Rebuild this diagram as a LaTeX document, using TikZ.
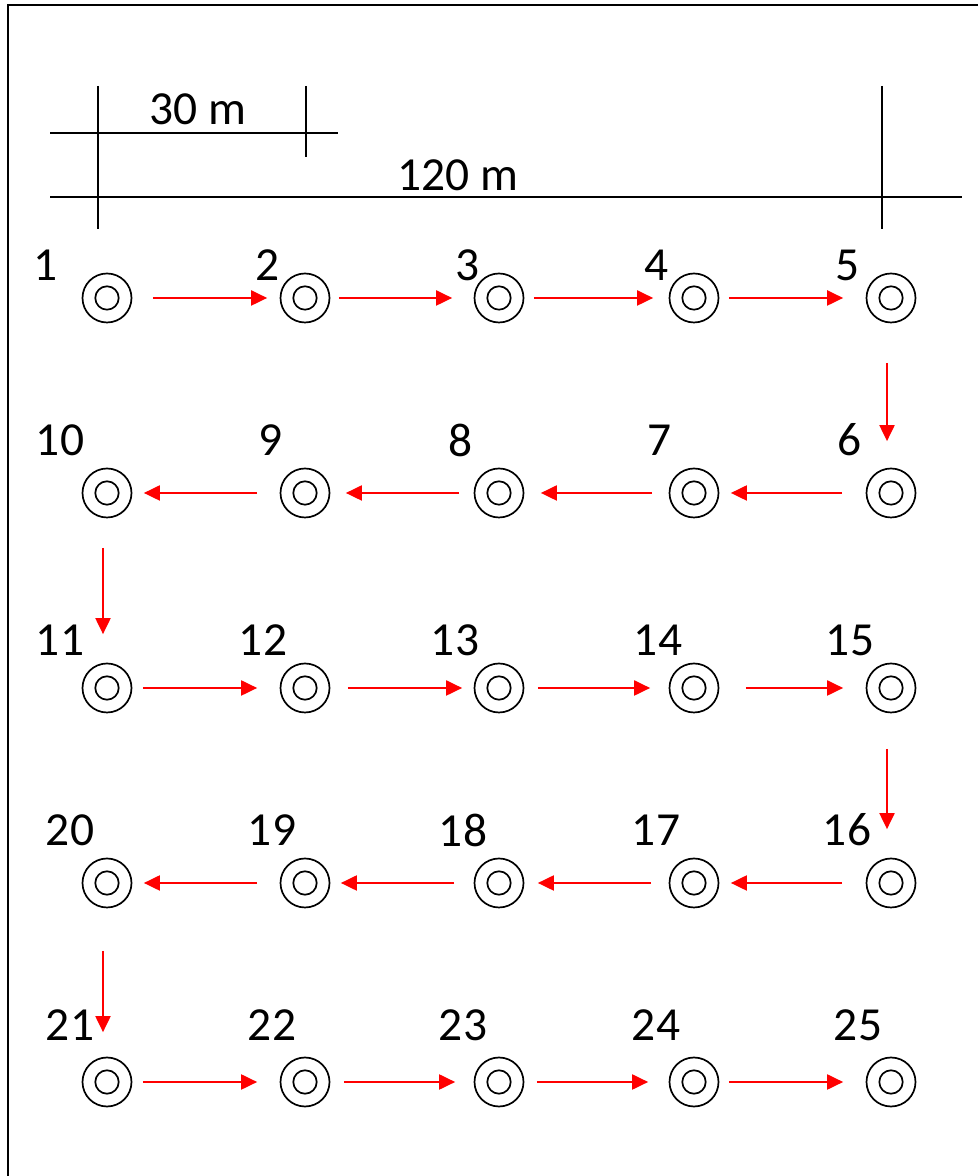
\documentclass[tikz,border=0pt]{standalone}
\usepackage{fontspec,xcolor,tikz}
\setmainfont{Carlito}
\usetikzlibrary{arrows.meta}
\definecolor{ink}{HTML}{000000}
\definecolor{weg}{HTML}{FF0000}
\newcommand{\nummer}{\fontsize{13.5}{16}\selectfont}
\tikzset{messpunkt/.style={circle,draw=ink,line width=0.17mm,minimum size=4.9mm,inner sep=0,
    path picture={\draw[ink,line width=0.17mm] (path picture bounding box.center) circle (1.17mm);}},
  laufweg/.style={weg,line width=0.2mm,-{Triangle[length=1.6mm,width=1.5mm]}},
  senkrecht/.style={transform canvas={xshift=-0.4mm}},
  bemassung/.style={ink,line width=0.17mm},
  rahmen/.style={ink,line width=0.25mm},
  zahl/.style={inner sep=0,text=ink,font=\nummer}}
\newcommand{\schritt}[5][]{\draw[laufweg,#1,shorten <=#4mm,shorten >=#5mm] (#2) -- (#3);}

\begin{document}
\begin{tikzpicture}[x=1mm,y=1mm]
\useasboundingbox (0,0) rectangle (97.8,117.6);
\draw[rahmen] (97.8,117.1) -- (0.8,117.1) -- (0.8,0);
\draw[bemassung] (5.0,104.3) -- (33.8,104.3) (5.0,97.9) -- (96.2,97.9);
\draw[bemassung] (9.8,109.0) -- (9.8,94.7) (30.6,109.0) -- (30.6,101.9) (88.2,109.0) -- (88.2,94.7);
\node[zahl] (m30) at (19.8,106.7) {30 m};
\node[zahl] (m120) at (45.75,100.1) {120 m};
\node[messpunkt] (p1) at (10.7,87.8) {};
\node[messpunkt] (p2) at (30.5,87.8) {};
\node[messpunkt] (p3) at (49.9,87.8) {};
\node[messpunkt] (p4) at (69.4,87.8) {};
\node[messpunkt] (p5) at (89.1,87.8) {};
\node[messpunkt] (p10) at (10.7,68.3) {};
\node[messpunkt] (p9) at (30.5,68.3) {};
\node[messpunkt] (p8) at (49.9,68.3) {};
\node[messpunkt] (p7) at (69.4,68.3) {};
\node[messpunkt] (p6) at (89.1,68.3) {};
\node[messpunkt] (p11) at (10.7,48.8) {};
\node[messpunkt] (p12) at (30.5,48.8) {};
\node[messpunkt] (p13) at (49.9,48.8) {};
\node[messpunkt] (p14) at (69.4,48.8) {};
\node[messpunkt] (p15) at (89.1,48.8) {};
\node[messpunkt] (p20) at (10.7,29.3) {};
\node[messpunkt] (p19) at (30.5,29.3) {};
\node[messpunkt] (p18) at (49.9,29.3) {};
\node[messpunkt] (p17) at (69.4,29.3) {};
\node[messpunkt] (p16) at (89.1,29.3) {};
\node[messpunkt] (p21) at (10.7,9.4) {};
\node[messpunkt] (p22) at (30.5,9.4) {};
\node[messpunkt] (p23) at (49.9,9.4) {};
\node[messpunkt] (p24) at (69.4,9.4) {};
\node[messpunkt] (p25) at (89.1,9.4) {};
\node[zahl] (n1) at (4.6,91.1) {1};
\node[zahl] (n2) at (26.8,91.1) {2};
\node[zahl] (n3) at (46.8,91.1) {3};
\node[zahl] (n4) at (65.7,91.1) {4};
\node[zahl] (n5) at (84.8,91.1) {5};
\node[zahl] (n10) at (6.0,73.6) {10};
\node[zahl] (n9) at (27.1,73.6) {9};
\node[zahl] (n8) at (46.1,73.6) {8};
\node[zahl] (n7) at (66.0,73.6) {7};
\node[zahl] (n6) at (85.0,73.6) {6};
\node[zahl] (n11) at (6.0,53.6) {11};
\node[zahl] (n12) at (26.3,53.6) {12};
\node[zahl] (n13) at (45.5,53.6) {13};
\node[zahl] (n14) at (65.8,53.6) {14};
\node[zahl] (n15) at (85.0,53.6) {15};
\node[zahl] (n20) at (7.0,34.6) {20};
\node[zahl] (n19) at (27.2,34.6) {19};
\node[zahl] (n18) at (46.3,34.6) {18};
\node[zahl] (n17) at (65.6,34.6) {17};
\node[zahl] (n16) at (84.7,34.6) {16};
\node[zahl] (n21) at (7.0,15.1) {21};
\node[zahl] (n22) at (27.2,15.1) {22};
\node[zahl] (n23) at (46.3,15.1) {23};
\node[zahl] (n24) at (65.6,15.1) {24};
\node[zahl] (n25) at (85.8,15.1) {25};
\schritt{p1}{p2}{2.05}{1.25}
\schritt{p2}{p3}{0.85}{2.15}
\schritt{p3}{p4}{0.95}{1.55}
\schritt{p4}{p5}{0.95}{2.25}
\schritt[senkrecht]{p5}{p6}{3.95}{2.65}
\schritt{p6}{p7}{2.35}{1.15}
\schritt{p7}{p8}{1.65}{1.65}
\schritt{p8}{p9}{1.45}{1.55}
\schritt{p9}{p10}{2.25}{1.15}
\schritt[senkrecht]{p10}{p11}{2.95}{2.85}
\schritt{p11}{p12}{1.05}{2.25}
\schritt{p12}{p13}{1.75}{1.15}
\schritt{p13}{p14}{1.35}{1.85}
\schritt{p14}{p15}{2.65}{2.25}
\schritt[senkrecht]{p15}{p16}{3.55}{2.85}
\schritt{p16}{p17}{2.35}{1.15}
\schritt{p17}{p18}{1.75}{1.35}
\schritt{p18}{p19}{1.95}{1.05}
\schritt{p19}{p20}{2.25}{1.15}
\schritt[senkrecht]{p20}{p21}{4.25}{2.45}
\schritt{p21}{p22}{1.05}{2.25}
\schritt{p22}{p23}{1.35}{1.85}
\schritt{p23}{p24}{1.25}{2.05}
\schritt{p24}{p25}{0.95}{2.25}
\end{tikzpicture}
\end{document}
